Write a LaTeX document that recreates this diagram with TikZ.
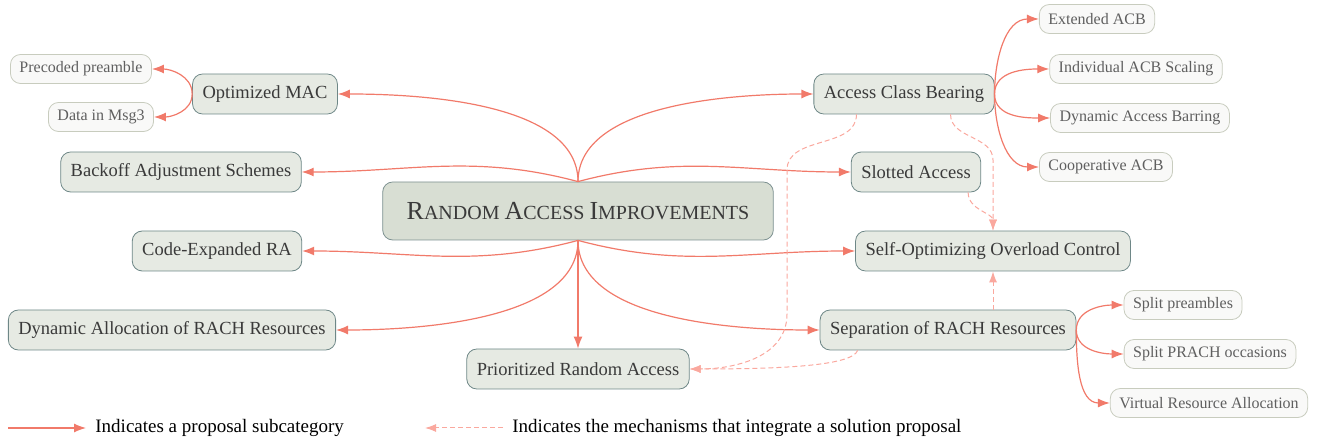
\documentclass[tikz,border=0pt]{standalone}
\usepackage{fontspec}
\setmainfont{Liberation Serif}
\definecolor{linkred}{RGB}{241,122,106}
\definecolor{linkpink}{RGB}{250,168,158}
\definecolor{rootfill}{RGB}{216,222,211}
\definecolor{rootdraw}{RGB}{125,145,145}
\definecolor{catfill}{RGB}{230,234,227}
\definecolor{catdraw}{RGB}{110,135,135}
\definecolor{leaffill}{RGB}{249,249,248}
\definecolor{leafdraw}{RGB}{200,204,190}
\definecolor{inkgray}{RGB}{58,58,58}
\definecolor{leafgray}{RGB}{95,95,95}
\usetikzlibrary{arrows.meta}
\newcommand{\scword}[2]{{\fontsize{26}{30}\selectfont #1}#2}

\begin{document}
\begin{tikzpicture}[x=1pt, y=1pt, thick]
  \tikzstyle{root}=[draw=rootdraw, fill=rootfill, text=inkgray, rounded corners=10pt, minimum height=58pt, inner xsep=24pt, line width=0.8pt, font=\fontsize{20}{24}\selectfont]
  \tikzstyle{cat}=[draw=catdraw, fill=catfill, text=inkgray, rounded corners=10pt, minimum height=40pt, inner xsep=10pt, line width=0.8pt, font=\fontsize{18.5}{22}\selectfont]
  \tikzstyle{leaf}=[draw=leafdraw, fill=leaffill, text=leafgray, rounded corners=10pt, minimum height=29pt, inner xsep=9pt, line width=0.8pt, font=\fontsize{16}{19}\selectfont]
  \tikzstyle{sub}=[color=linkred, line width=1.2pt, -{Latex[length=12pt,width=9pt]}]
  \tikzstyle{mech}=[color=linkpink, line width=1pt, dash pattern=on 5pt off 3pt, -{Latex[length=11pt,width=8pt]}]
  \tikzstyle{legend}=[anchor=west, inner sep=0pt, text=black, font=\fontsize{19}{23}\selectfont]

  \useasboundingbox (0,0) rectangle (1327,444);

  \node[root] (main) at (578,233) {\scword{R}{ANDOM} \scword{A}{CCESS} \scword{I}{MPROVEMENTS}};

  % left branch
  \node[cat] (mac)     at (265,350) {Optimized MAC};
  \node[cat] (backoff) at (181,272) {Backoff Adjustment Schemes};
  \node[cat] (cera)    at (217,193) {Code-Expanded RA};
  \node[cat] (dyn)     at (172,114) {Dynamic Allocation of RACH Resources};
  \node[cat] (prio)    at (578,75)  {Prioritized Random Access};
  \node[leaf] (pre)    at (81,375)  {Precoded preamble};
  \node[leaf] (msg3)   at (101,327) {Data in Msg3};

  % right branch
  \node[cat] (acb)  at (904,350) {Access Class Bearing};
  \node[cat] (slot) at (916,272) {Slotted Access};
  \node[cat] (soc)  at (993,193) {Self-Optimizing Overload Control};
  \node[cat] (sep)  at (948,114) {Separation of RACH Resources};
  \node[leaf] (ext)    at (1097,425) {Extended ACB};
  \node[leaf] (indiv)  at (1136,375) {Individual ACB Scaling};
  \node[leaf] (dab)    at (1140,326) {Dynamic Access Barring};
  \node[leaf] (coop)   at (1106,277) {Cooperative ACB};
  \node[leaf] (spre)   at (1183,139) {Split preambles};
  \node[leaf] (sprach) at (1210,90)  {Split PRACH occasions};
  \node[leaf] (vra)    at (1209,41)  {Virtual Resource Allocation};

  \path[every edge/.style={draw, sub}]
    (main.north)
        edge [out=90, in=0, looseness=0.8]   (mac.east)
        edge [out=165, in=0]                 (backoff.east)
        edge [out=90, in=180, looseness=0.8] (acb.west)
        edge [out=15, in=180]                (slot.west)
    (main.south)
        edge [out=-165, in=0]                (cera.east)
        edge [out=-15, in=180]               (soc.west)
        edge [out=-90, in=0, looseness=0.8]  (dyn.east)
        edge [out=-90, in=180, looseness=0.8] (sep.west)
        edge                                 (prio.north)
    (mac.west)
        edge [out=90, in=0]   (pre.east)
        edge [out=-90, in=0]  (msg3.east)
    (acb.east)
        edge [out=90, in=180]  (ext.west)
        edge [out=90, in=180]  (indiv.west)
        edge [out=-90, in=180] (dab.west)
        edge [out=-90, in=180] (coop.west)
    (sep.east)
        edge [out=90, in=180]  (spre.west)
        edge [out=-90, in=180] (sprach.west)
        edge [out=-90, in=180] (vra.west)
  ;

  % mechanisms
  \draw[mech] ([xshift=43pt]acb.south west) to[out=-90, in=90] (787,274) -- (787,130) to[out=-90, in=0] (prio.east);
  \draw[mech] ([xshift=38pt]sep.south west) .. controls (852,78) and (780,75) .. (prio.east);
  \draw[mech] ([xshift=-44pt]acb.south east) to[out=-90, in=90] (soc.north |- 0,284) -- (soc.north);
  \draw[mech] ([xshift=-13pt]slot.south east) to[out=-90, in=90] (soc.north);
  \draw[mech] (sep.north -| soc.south) -- (soc.south);

  % legend
  \coordinate (subtail) at (8,16);
  \coordinate (mechtip) at (425,16);
  \node[legend] (legsub)  at (95,16)  {Indicates a proposal subcategory};
  \node[legend] (legmech) at (512,16) {Indicates the mechanisms that integrate a solution proposal};
  \draw[sub]  (subtail) -- ([xshift=-9pt]legsub.west);
  \draw[mech] ([xshift=-9pt]legmech.west) -- (mechtip);
\end{tikzpicture}
\end{document}
